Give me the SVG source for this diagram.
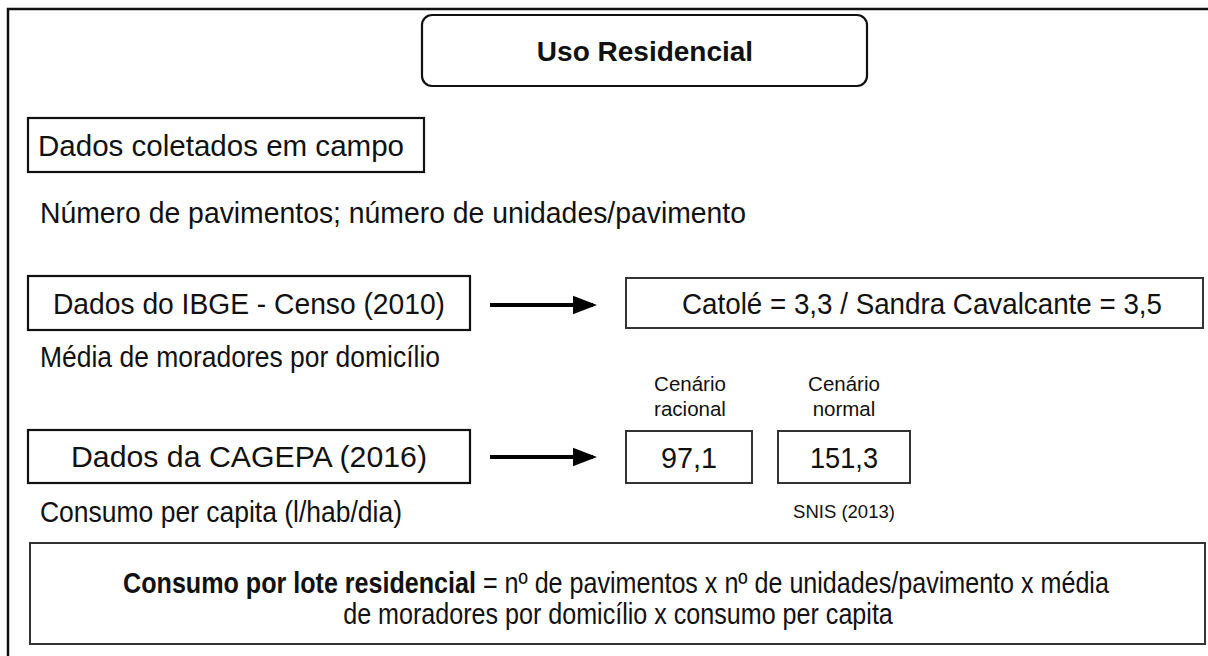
<svg xmlns="http://www.w3.org/2000/svg" width="1208" height="656" viewBox="0 0 1208 656">
<defs>
<style>
.t{font-family:"Liberation Sans",Arial,sans-serif;font-size:29px;fill:#111}
.s{font-family:"Liberation Sans",Arial,sans-serif;font-size:20.5px;fill:#111}
.sn{font-family:"Liberation Sans",Arial,sans-serif;font-size:18.5px;fill:#111}
.b{font-family:"Liberation Sans",Arial,sans-serif;font-weight:bold;fill:#111}
.box{fill:#fff;stroke:#111;stroke-width:2.2}
.gbox{fill:#fff;stroke:#333;stroke-width:2}
.c{text-anchor:middle}
.arr{stroke:#000;stroke-width:4;fill:none}
</style>
<marker id="ah" markerWidth="6" markerHeight="6" refX="5" refY="3" orient="auto" markerUnits="strokeWidth">
<path d="M0,0.7 L6,3 L0,5.3 Z" fill="#000"/>
</marker>
</defs>
<rect width="1208" height="656" fill="#fff"/>
<g id="frame"><path d="M8,660 L8,9 L1212,9" fill="none" stroke="#111" stroke-width="2.5"/></g>
<g id="title"><rect class="box" x="422" y="15" width="445" height="71" rx="10" stroke-width="2.5"/><text class="b c" x="645" y="61" font-size="28">Uso Residencial</text></g>
<g id="campo"><rect class="box" x="28" y="118" width="396" height="54"/><text class="t c" x="221" y="156" textLength="366" lengthAdjust="spacingAndGlyphs">Dados coletados em campo</text></g>
<g id="num"><text class="t" x="40" y="223" textLength="706" lengthAdjust="spacingAndGlyphs">Número de pavimentos; número de unidades/pavimento</text></g>
<g id="ibge"><rect class="box" x="28" y="276" width="442" height="54"/><text class="t c" x="249" y="314" textLength="392" lengthAdjust="spacingAndGlyphs">Dados do IBGE - Censo (2010)</text></g>
<g id="catole"><rect class="gbox" x="626" y="278" width="577" height="50"/><text class="t c" x="922" y="314" textLength="480" lengthAdjust="spacingAndGlyphs">Catolé = 3,3 / Sandra Cavalcante = 3,5</text></g>
<g id="media"><text class="t" x="40" y="367" textLength="400" lengthAdjust="spacingAndGlyphs">Média de moradores por domicílio</text></g>
<g id="cen1"><text class="s c" x="690" y="391">Cenário</text><text class="s c" x="690" y="416">racional</text></g>
<g id="cen2"><text class="s c" x="844" y="391">Cenário</text><text class="s c" x="844" y="416">normal</text></g>
<g id="cagepa"><rect class="box" x="28" y="430" width="442" height="53"/><text class="t c" x="249" y="467" textLength="356" lengthAdjust="spacingAndGlyphs">Dados da CAGEPA (2016)</text></g>
<g id="v97"><rect class="gbox" x="626" y="431" width="126" height="52"/><text class="t c" x="689" y="468" textLength="56" lengthAdjust="spacingAndGlyphs">97,1</text></g>
<g id="v151"><rect class="gbox" x="778" y="431" width="132" height="52"/><text class="t c" x="844" y="468" textLength="68" lengthAdjust="spacingAndGlyphs">151,3</text></g>
<g id="consumo"><text class="t" x="40" y="522" textLength="362" lengthAdjust="spacingAndGlyphs">Consumo per capita (l/hab/dia)</text></g>
<g id="snis"><text class="sn c" x="844" y="518">SNIS (2013)</text></g>
<g id="formula"><rect class="gbox" x="30" y="543" width="1175" height="101"/>
<text class="t c" transform="translate(616,593) scale(0.866,1)"><tspan font-weight="bold">Consumo por lote residencial</tspan> = nº de pavimentos x nº de unidades/pavimento x média</text>
<text class="t c" transform="translate(618,624) scale(0.866,1)">de moradores por domicílio x consumo per capita</text></g>
<g id="connectors">
<line class="arr" x1="490" y1="305" x2="593" y2="305" marker-end="url(#ah)"/>
<line class="arr" x1="490" y1="457" x2="593" y2="457" marker-end="url(#ah)"/>
</g>
</svg>
